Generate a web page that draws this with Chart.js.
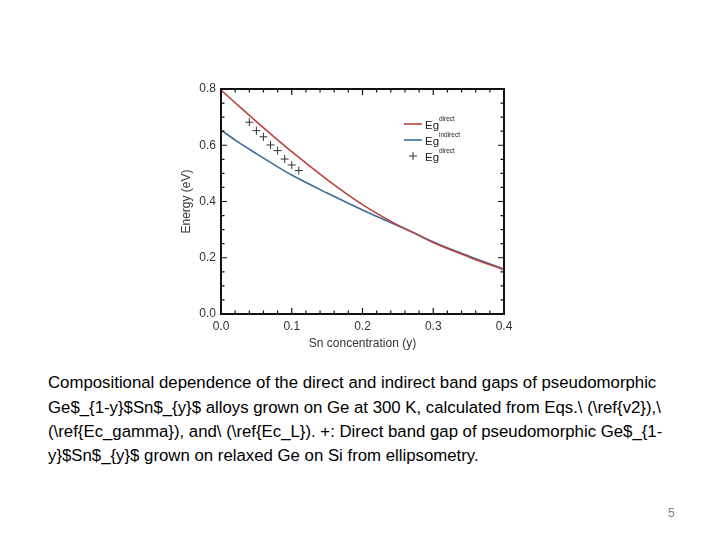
<!DOCTYPE html>
<html>
<head>
<meta charset="utf-8">
<script src="https://cdn.jsdelivr.net/npm/chart.js@4/dist/chart.umd.min.js"></script>
<style>
  body { margin: 0; background: #fff; }
  #wrap { position: relative; width: 720px; height: 540px; overflow: hidden; }
  #plot { position: absolute; left: 0; top: 0; }
  .cap { position: absolute; left: 48px; font-family: "Liberation Sans", Arial, sans-serif; font-size: 16.8px; line-height: 19px; color: #000; white-space: nowrap; }
  #page { position: absolute; left: 668px; top: 506px; font-family: "Liberation Sans", Arial, sans-serif; font-size: 12px; color: #7f7f7f; }
</style>
</head>
<body>
<div id="wrap">
  <canvas id="plot" width="720" height="360"></canvas>
  <div class="cap" style="top:373px">Compositional dependence of the direct and indirect band gaps of pseudomorphic</div>
  <div class="cap" style="top:398px">Ge$_{1-y}$Sn$_{y}$ alloys grown on Ge at 300 K, calculated from Eqs.\ (\ref{v2}),\</div>
  <div class="cap" style="top:422px">(\ref{Ec_gamma}), and\ (\ref{Ec_L}). +: Direct band gap of pseudomorphic Ge$_{1-</div>
  <div class="cap" style="top:446px">y}$Sn$_{y}$ grown on relaxed Ge on Si from ellipsometry.</div>
  <div id="page">5</div>
</div>
<script>
// Sn concentration (y) and band gaps
const snConc = [0.0, 0.025, 0.05, 0.075, 0.1, 0.15, 0.2, 0.25, 0.27, 0.3, 0.35, 0.4];
const egDirect = [0.796, 0.740, 0.684, 0.630, 0.577, 0.478, 0.389, 0.316, 0.291, 0.254, 0.203, 0.157];
const egIndirect = [0.654, 0.610, 0.570, 0.531, 0.494, 0.430, 0.370, 0.314, 0.292, 0.256, 0.206, 0.160];

// ellipsometry points (+)
const measConc = [0.04, 0.05, 0.06, 0.07, 0.08, 0.09, 0.10, 0.11];
const measEg = [0.682, 0.652, 0.630, 0.601, 0.581, 0.551, 0.530, 0.510];

const xTickLabels = ['0.0', '0.1', '0.2', '0.3', '0.4'];
const yTickLabels = ['0.0', '0.2', '0.4', '0.6', '0.8'];

const redColor = '#b8443c';
const blueColor = '#3d6c9c';
const font = 'Liberation Sans, Arial, sans-serif';

function toPoints(xs, ys) {
    return xs.map((x, i) => ({ x: x, y: ys[i] }));
}

// inward ticks on all four sides plus the frame
const frameTicks = {
    id: 'frameTicks',
    afterDraw(chart) {
        const { ctx, chartArea: a, scales } = chart;
        ctx.save();
        ctx.strokeStyle = '#111';
        ctx.lineWidth = 1.2;
        for (let i = 0; i <= 20; i++) {
            const px = scales.x.getPixelForValue(i * 0.02);
            const len = i % 5 === 0 ? 6 : 3.5;
            ctx.beginPath();
            ctx.moveTo(px, a.bottom); ctx.lineTo(px, a.bottom - len);
            ctx.moveTo(px, a.top); ctx.lineTo(px, a.top + len);
            ctx.stroke();
        }
        for (let i = 0; i <= 16; i++) {
            const py = scales.y.getPixelForValue(i * 0.05);
            const len = i % 4 === 0 ? 6 : 3.5;
            ctx.beginPath();
            ctx.moveTo(a.left, py); ctx.lineTo(a.left + len, py);
            ctx.moveTo(a.right, py); ctx.lineTo(a.right - len, py);
            ctx.stroke();
        }
        ctx.lineWidth = 2;
        ctx.strokeRect(a.left, a.top, a.right - a.left, a.bottom - a.top);
        ctx.restore();
    }
};

// legend with superscripts
const egLegend = {
    id: 'egLegend',
    afterDraw(chart) {
        const ctx = chart.ctx;
        const rows = [
            { y: 124, kind: 'line', color: redColor, sup: 'direct' },
            { y: 140, kind: 'line', color: blueColor, sup: 'indirect' },
            { y: 156, kind: 'cross', color: '#333', sup: 'direct' }
        ];
        ctx.save();
        rows.forEach(r => {
            ctx.strokeStyle = r.color;
            if (r.kind === 'line') {
                ctx.lineWidth = 1.6;
                ctx.beginPath();
                ctx.moveTo(404, r.y); ctx.lineTo(422, r.y);
                ctx.stroke();
            } else {
                ctx.lineWidth = 1;
                ctx.beginPath();
                ctx.moveTo(409, r.y); ctx.lineTo(417, r.y);
                ctx.moveTo(413, r.y - 4); ctx.lineTo(413, r.y + 4);
                ctx.stroke();
            }
            ctx.fillStyle = '#222';
            ctx.textBaseline = 'middle';
            ctx.font = '11.5px ' + font;
            ctx.fillText('Eg', 425, r.y + 2);
            ctx.font = '6.5px ' + font;
            ctx.fillText(r.sup, 439, r.y - 5);
        });
        ctx.restore();
    }
};

new Chart(document.getElementById('plot'), {
    type: 'line',
    data: {
        datasets: [
            {
                label: 'Eg direct',
                data: toPoints(snConc, egDirect),
                borderColor: redColor,
                borderWidth: 1.6,
                pointRadius: 0,
                cubicInterpolationMode: 'monotone',
                fill: false
            },
            {
                label: 'Eg indirect',
                data: toPoints(snConc, egIndirect),
                borderColor: blueColor,
                borderWidth: 1.6,
                pointRadius: 0,
                cubicInterpolationMode: 'monotone',
                fill: false
            },
            {
                label: 'Eg direct (ellipsometry)',
                data: toPoints(measConc, measEg),
                showLine: false,
                pointStyle: 'cross',
                pointRadius: 4,
                pointBorderWidth: 1,
                pointBorderColor: '#333',
                borderColor: '#333'
            }
        ]
    },
    options: {
        responsive: false,
        animation: false,
        layout: { padding: { left: 175, top: 89, right: 216, bottom: 6 } },
        plugins: { legend: { display: false }, tooltip: { enabled: false } },
        scales: {
            x: {
                type: 'linear',
                min: 0, max: 0.4,
                grid: { display: false, drawTicks: false },
                border: { display: false },
                afterFit(scale) { scale.height = 40; },
                afterBuildTicks(scale) {
                    scale.ticks = xTickLabels.map(t => ({ value: parseFloat(t) }));
                },
                ticks: {
                    padding: 5,
                    color: '#333',
                    font: { family: font, size: 12 },
                    callback: (v) => xTickLabels.find(t => Math.abs(parseFloat(t) - v) < 1e-6)
                },
                title: {
                    display: true,
                    text: 'Sn concentration (y)',
                    color: '#333',
                    font: { family: font, size: 12 },
                    padding: { top: 0, bottom: 3 }
                }
            },
            y: {
                type: 'linear',
                min: 0, max: 0.8,
                grid: { display: false, drawTicks: false },
                border: { display: false },
                afterFit(scale) { scale.width = 46; },
                afterBuildTicks(scale) {
                    scale.ticks = yTickLabels.map(t => ({ value: parseFloat(t) }));
                },
                ticks: {
                    padding: 5,
                    color: '#333',
                    font: { family: font, size: 12 },
                    callback: (v) => yTickLabels.find(t => Math.abs(parseFloat(t) - v) < 1e-6)
                },
                title: {
                    display: true,
                    text: 'Energy (eV)',
                    color: '#333',
                    font: { family: font, size: 12 },
                    padding: { top: 4, bottom: 0 }
                }
            }
        }
    },
    plugins: [frameTicks, egLegend]
});
</script>
</body>
</html>
